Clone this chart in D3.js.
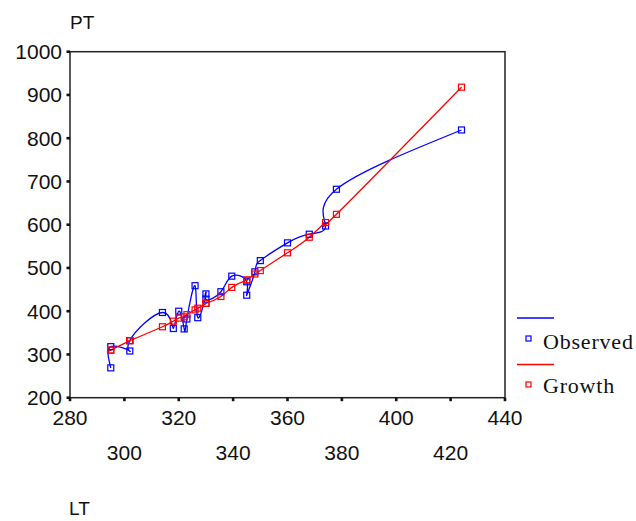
<!DOCTYPE html>
<html><head><meta charset="utf-8">
<script src="https://cdn.jsdelivr.net/npm/d3@7/dist/d3.min.js"></script>
<style>body{margin:0;background:#fff}svg{display:block}</style>
</head><body>
<script>
const lt       = [295,295,302,302,314,318,320,322,323,326,327,330,330,335.5,339.5,345,345,348,350,360,368,374,378,424];
const observed = [269,318,308,332,397,360,400,359,382,459,385,440,428,445,481,468,437,491,517,558,578,597,682,819];
const growth   = [310,310,332,332,364,377,384,387,392,403,407,418,418,434,455,472,472,486,494,535,571,605,624,918];
const xTicksRow1 = [280,320,360,400,440];
const xTicksRow2 = [300,340,380,420];
const yTicks = [200,300,400,500,600,700,800,900,1000];
const seriesNames = ["Observed","Growth"];
const seriesColors = ["#0000ff","#ff0000"];

const W=636,H=521;
const svg=d3.select("body").append("svg").attr("width",W).attr("height",H);
const x=d3.scaleLinear().domain([280,440]).range([70,505]);
const y=d3.scaleLinear().domain([200,1000]).range([397.7,51.7]);

// frame
svg.append("rect").attr("x",x(280)).attr("y",y(1000)).attr("width",x(440)-x(280)).attr("height",y(200)-y(1000))
  .attr("fill","none").attr("stroke","#222").attr("stroke-width",1.5);

// tick marks
svg.selectAll(".yt").data(yTicks).enter().append("rect")
  .attr("x",x(280)-3.5).attr("y",d=>y(d)-1.3).attr("width",3.5).attr("height",2.6).attr("fill","#111");
svg.selectAll(".xt").data(xTicksRow1.concat(xTicksRow2)).enter().append("rect")
  .attr("x",d=>x(d)-1.3).attr("y",y(200)).attr("width",2.6).attr("height",3.5).attr("fill","#111");

const sans="'Liberation Sans',Arial,sans-serif";
svg.selectAll(".yl").data(yTicks).enter().append("text")
  .attr("x",62).attr("y",d=>y(d)+7.5).attr("text-anchor","end")
  .attr("font-family",sans).attr("font-size",21).attr("fill","#111").text(d=>d);
svg.selectAll(".xl1").data(xTicksRow1).enter().append("text")
  .attr("x",d=>x(d)).attr("y",425).attr("text-anchor","middle")
  .attr("font-family",sans).attr("font-size",21).attr("fill","#111").text(d=>d);
svg.selectAll(".xl2").data(xTicksRow2).enter().append("text")
  .attr("x",d=>x(d)).attr("y",460).attr("text-anchor","middle")
  .attr("font-family",sans).attr("font-size",21).attr("fill","#111").text(d=>d);
svg.append("text").attr("x",69).attr("y",515).attr("font-family",sans).attr("font-size",19).attr("fill","#111").text("LT");
svg.append("text").attr("x",70).attr("y",29).attr("font-family",sans).attr("font-size",19).attr("fill","#111").text("PT");

// series
const obsPts = lt.map((v,i)=>[v,observed[i]]);
const groPts = lt.map((v,i)=>[v,growth[i]]);
const line=d3.line().x(d=>x(d[0])).y(d=>y(d[1])).curve(d3.curveNatural);
[[obsPts,0],[groPts,1]].forEach(([pts,k])=>{
  svg.append("path").attr("d",line(pts)).attr("fill","none").attr("stroke",seriesColors[k]).attr("stroke-width",1.3);
});
[[obsPts,0],[groPts,1]].forEach(([pts,k])=>{
  svg.selectAll(".m"+k).data(pts).enter().append("rect")
    .attr("x",d=>x(d[0])-3).attr("y",d=>y(d[1])-3).attr("width",6).attr("height",6)
    .attr("fill","none").attr("stroke",seriesColors[k]).attr("stroke-width",1.2);
});

// legend
const serif="'Liberation Serif','Times New Roman',serif";
const lg=[{ly:318,my:338.5,ty:349},{ly:364.5,my:384.5,ty:393}];
lg.forEach((o,k)=>{
  svg.append("line").attr("x1",517).attr("x2",554).attr("y1",o.ly).attr("y2",o.ly).attr("stroke",seriesColors[k]).attr("stroke-width",1.3);
  svg.append("rect").attr("x",526).attr("y",o.my-2.5).attr("width",5).attr("height",5).attr("fill","none").attr("stroke",seriesColors[k]).attr("stroke-width",1.2);
  svg.append("text").attr("x",543).attr("y",o.ty).attr("font-family",serif).attr("font-size",22).attr("letter-spacing",0.8).attr("fill","#111").text(seriesNames[k]);
});
</script>
</body></html>
